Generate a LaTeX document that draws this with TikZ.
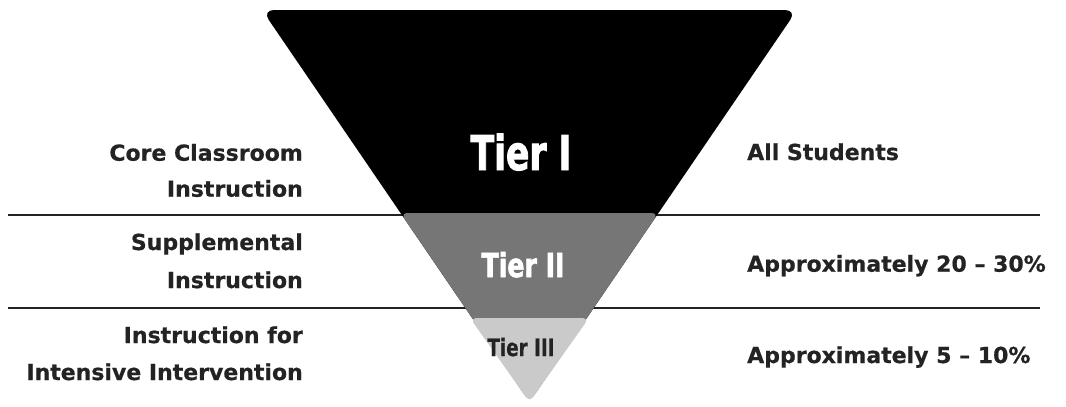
\documentclass[tikz,border=0pt]{standalone}
\usepackage{fontspec}
\setmainfont{DejaVu Sans}[BoldFeatures={FakeBold=0.6}]
\newfontface\heavyface{DejaVu Sans Condensed Bold}[FakeBold=2]
\newfontface\tierthreeface{DejaVu Sans Condensed Bold}[FakeBold=0.5]
\definecolor{ink}{RGB}{35,35,35}
\definecolor{tiertwo}{RGB}{118,118,118}
\definecolor{tierthree}{RGB}{202,202,202}
\begin{document}
\begin{tikzpicture}[x=1pt,y=-1pt,
  lab/.style={font=\fontsize{22}{26}\selectfont\bfseries, text=ink, inner sep=0pt},
  leftlab/.style={lab, anchor=base east},
  rightlab/.style={lab, anchor=base west},
  rule/.style={line width=1.5pt, draw=ink},
  tierlab/.style={inner sep=0pt, anchor=base}
]
\useasboundingbox (0,0) rectangle (1066,407);
% rules
\coordinate (r1l) at (8,215);   \coordinate (r1r) at (1040,215);
\coordinate (r2l) at (8,308);   \coordinate (r2r) at (1040,308);
\draw[rule] (r1l) -- (r1r);
\draw[rule] (r2l) -- (r2r);
% triangle
\coordinate (tl) at (262,10);
\coordinate (tr) at (797,10);
\coordinate (apex) at (529.5,402);
\fill[black, rounded corners=12pt] (tl) -- (tr) -- (apex) -- cycle;
% tier II band
\coordinate (t2l) at (400.5,213);
\coordinate (t2r) at (658.5,213);
\fill[tiertwo, rounded corners=7pt] (t2l) -- (t2r) -- (apex) -- cycle;
% tier III
\coordinate (t3l) at (470,318);
\coordinate (t3r) at (589,318);
\fill[tierthree, rounded corners=7pt] (t3l) -- (t3r) -- (apex) -- cycle;
% tier labels
\node[tierlab, text=white] (tier1) at (521,170)
  {\scalebox{0.8}[1]{\fontsize{48}{50}\heavyface Tier I}};
\node[tierlab, text=white] (tier2) at (523,277)
  {\scalebox{0.85}[1]{\fontsize{33}{36}\heavyface Tier II}};
\node[tierlab, text=ink] (tier3) at (521,356)
  {\scalebox{0.85}[1]{\fontsize{24}{28}\tierthreeface Tier III}};
% left labels
\node[leftlab] (l1a) at (303,160.7) {Core Classroom};
\node[leftlab] (l1b) at (303,196.7) {Instruction};
\node[leftlab] (l2a) at (303,250) {Supplemental};
\node[leftlab] (l2b) at (303,288) {Instruction};
\node[leftlab] (l3a) at (303,343) {Instruction for};
\node[leftlab] (l3b) at (303,380) {Intensive Intervention};
% right labels
\node[rightlab] (ra) at (747,160) {All Students};
\node[rightlab] (rb) at (747,271.7) {Approximately 20 – 30\%};
\node[rightlab] (rc) at (747,363) {Approximately 5 – 10\%};
\end{tikzpicture}
\end{document}
